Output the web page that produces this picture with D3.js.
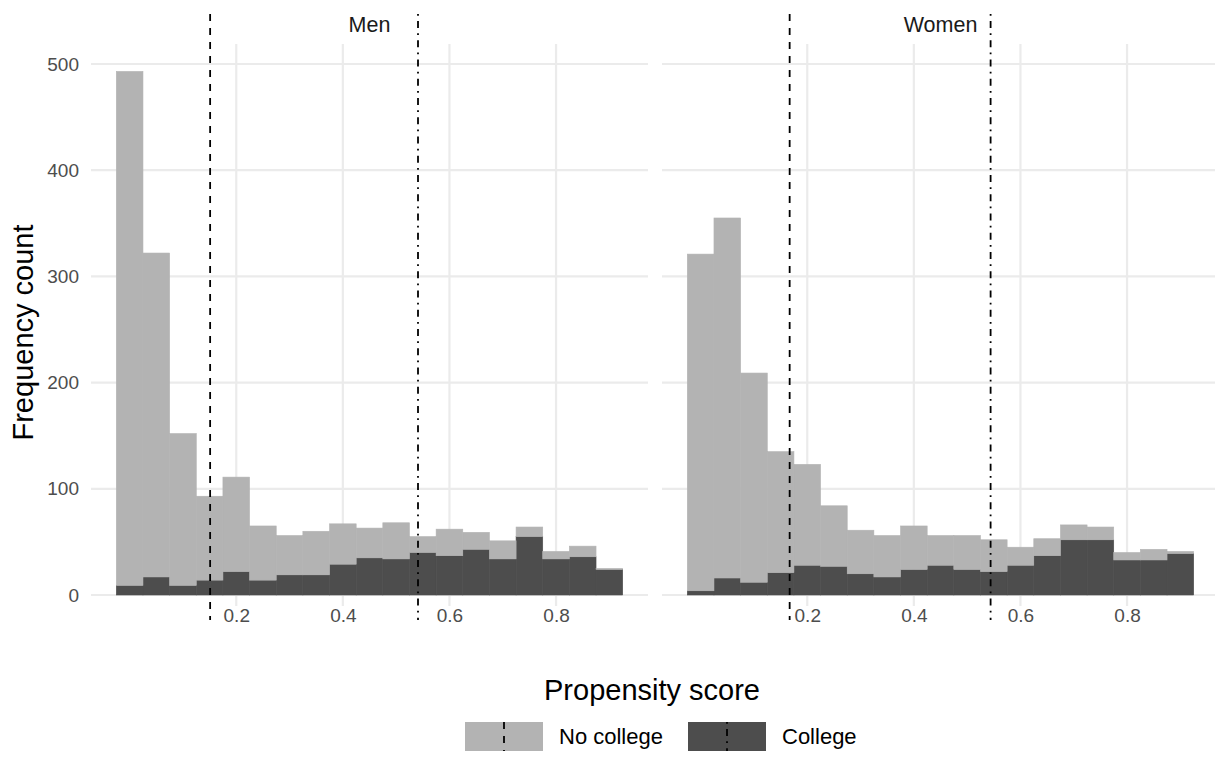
<!DOCTYPE html>
<html>
<head>
<meta charset="utf-8">
<script src="https://cdn.jsdelivr.net/npm/d3@7"></script>
<style>
  body { margin: 0; background: #fff; }
  text { font-family: "Liberation Sans", Arial, sans-serif; }
</style>
</head>
<body>
<div id="chart"></div>
<script>
// histogram bins (centres, binwidth 0.05)
var binCenters = [0, 0.05, 0.1, 0.15, 0.2, 0.25, 0.3, 0.35, 0.4, 0.45, 0.5, 0.55, 0.6, 0.65, 0.7, 0.75, 0.8, 0.85, 0.9];
var binWidth = 0.05;

var panels = ["Men", "Women"];
var groups = ["No college", "College"];

var menNoCollege = [484, 305, 143, 79, 89, 51, 37, 41, 38, 28, 34, 15, 25, 16, 17, 9, 7, 10, 1];
var menCollege = [9, 17, 9, 14, 22, 14, 19, 19, 29, 35, 34, 40, 37, 43, 34, 55, 34, 36, 24];
var womenNoCollege = [317, 339, 197, 114, 95, 57, 41, 39, 41, 28, 32, 30, 17, 16, 14, 12, 7, 10, 2];
var womenCollege = [4, 16, 12, 21, 28, 27, 20, 17, 24, 28, 24, 22, 28, 37, 52, 52, 33, 33, 39];

// mean propensity score per group: [No college, College]
var menMeans = [0.151, 0.541];
var womenMeans = [0.167, 0.544];

var xTicks = [0.2, 0.4, 0.6, 0.8];
var yTicks = [0, 100, 200, 300, 400, 500];

var W = 1215, H = 778;
var fills = ["#b3b3b3", "#4d4d4d"];
var dashes = ["7,7", "1.75,5.25,7,5.25"];
var panelTop = 44, panelBottom = 606;
var panelRanges = [[91, 648], [662, 1219]];

var panelData = [
  { name: panels[0], noCol: menNoCollege, col: menCollege, means: menMeans },
  { name: panels[1], noCol: womenNoCollege, col: womenCollege, means: womenMeans }
];

// zero sits at y=595, 500 at y=64
var y = d3.scaleLinear()
  .domain([0, 500])
  .range([595, 64]);

var xLo = binCenters[0] - binWidth / 2,
  xHi = binCenters[binCenters.length - 1] + binWidth / 2,
  xPad = (xHi - xLo) * 0.05;

var svg = d3.select("#chart")
  .append("svg")
  .attr("width", W)
  .attr("height", H)
  .style("display", "block");

panelData.forEach(function(p, pi) {
  var x = d3.scaleLinear()
    .domain([xLo - xPad, xHi + xPad])
    .range(panelRanges[pi]);

  var g = svg.append("g");

  // grid
  g.selectAll(".hgrid")
    .data(yTicks)
    .enter()
    .append("line")
    .attr("x1", panelRanges[pi][0])
    .attr("x2", panelRanges[pi][1])
    .attr("y1", d => y(d))
    .attr("y2", d => y(d))
    .attr("stroke", "#ebebeb")
    .attr("stroke-width", 2.2);

  g.selectAll(".vgrid")
    .data(xTicks)
    .enter()
    .append("line")
    .attr("x1", d => x(d))
    .attr("x2", d => x(d))
    .attr("y1", panelTop)
    .attr("y2", panelBottom)
    .attr("stroke", "#ebebeb")
    .attr("stroke-width", 2.2);

  // stacked bars: college at the bottom, no college on top
  var bins = binCenters.map((c, i) => ({ c: c, col: p.col[i], noCol: p.noCol[i] }));

  g.selectAll(".bar-col")
    .data(bins)
    .enter()
    .append("rect")
    .attr("x", d => x(d.c - binWidth / 2))
    .attr("width", d => x(d.c + binWidth / 2) - x(d.c - binWidth / 2))
    .attr("y", d => y(d.col))
    .attr("height", d => y(0) - y(d.col))
    .attr("fill", fills[1])
    .attr("stroke", fills[1])
    .attr("stroke-width", 0.6);

  g.selectAll(".bar-nocol")
    .data(bins)
    .enter()
    .append("rect")
    .attr("x", d => x(d.c - binWidth / 2))
    .attr("width", d => x(d.c + binWidth / 2) - x(d.c - binWidth / 2))
    .attr("y", d => y(d.col + d.noCol))
    .attr("height", d => y(d.col) - y(d.col + d.noCol))
    .attr("fill", fills[0])
    .attr("stroke", fills[0])
    .attr("stroke-width", 0.6);

  // group means
  g.selectAll(".vline")
    .data(p.means)
    .enter()
    .append("line")
    .attr("x1", d => x(d))
    .attr("x2", d => x(d))
    .attr("y1", 14)
    .attr("y2", 620)
    .attr("stroke", "#000")
    .attr("stroke-width", 1.8)
    .attr("stroke-dasharray", (d, i) => dashes[i]);

  // x axis labels
  var xAxis = g.append("g")
    .attr("transform", "translate(0," + panelBottom + ")")
    .call(d3.axisBottom(x).tickValues(xTicks).tickFormat(d3.format(".1f")).tickSize(0).tickPadding(2));
  xAxis.select(".domain").remove();
  xAxis.selectAll("text")
    .attr("font-size", 19)
    .attr("font-family", "Liberation Sans, Arial, sans-serif")
    .attr("fill", "#4d4d4d");

  // y axis labels only on the first panel
  if (pi === 0) {
    var yAxis = g.append("g")
      .attr("transform", "translate(" + panelRanges[pi][0] + ",0)")
      .call(d3.axisLeft(y).tickValues(yTicks).tickSize(0).tickPadding(12));
    yAxis.select(".domain").remove();
    yAxis.selectAll("text")
      .attr("font-size", 19)
      .attr("font-family", "Liberation Sans, Arial, sans-serif")
      .attr("fill", "#4d4d4d");
  }

  // strip label
  g.append("text")
    .attr("x", (panelRanges[pi][0] + panelRanges[pi][1]) / 2)
    .attr("y", 32)
    .attr("text-anchor", "middle")
    .attr("font-size", 21.5)
    .attr("fill", "#1a1a1a")
    .text(p.name);
});

// axis titles
svg.append("text")
  .attr("x", 652)
  .attr("y", 700)
  .attr("text-anchor", "middle")
  .attr("font-size", 29)
  .attr("fill", "#000")
  .text("Propensity score");

svg.append("text")
  .attr("transform", "translate(33," + (panelTop + 621) / 2 + ") rotate(-90)")
  .attr("text-anchor", "middle")
  .attr("font-size", 29)
  .attr("fill", "#000")
  .text("Frequency count");

// legend
var legendX = [465, 688];
var legend = svg.selectAll(".legend")
  .data(groups)
  .enter()
  .append("g")
  .attr("transform", (d, i) => "translate(" + legendX[i] + ",722)");

legend.append("rect")
  .attr("width", 78)
  .attr("height", 29)
  .attr("fill", (d, i) => fills[i]);

legend.append("line")
  .attr("x1", 39)
  .attr("x2", 39)
  .attr("y1", 0)
  .attr("y2", 29)
  .attr("stroke", "#000")
  .attr("stroke-width", 1.8)
  .attr("stroke-dasharray", (d, i) => dashes[i]);

legend.append("text")
  .attr("x", 94)
  .attr("y", 22)
  .attr("font-size", 22)
  .attr("fill", "#000")
  .text(d => d);
</script>
</body>
</html>
